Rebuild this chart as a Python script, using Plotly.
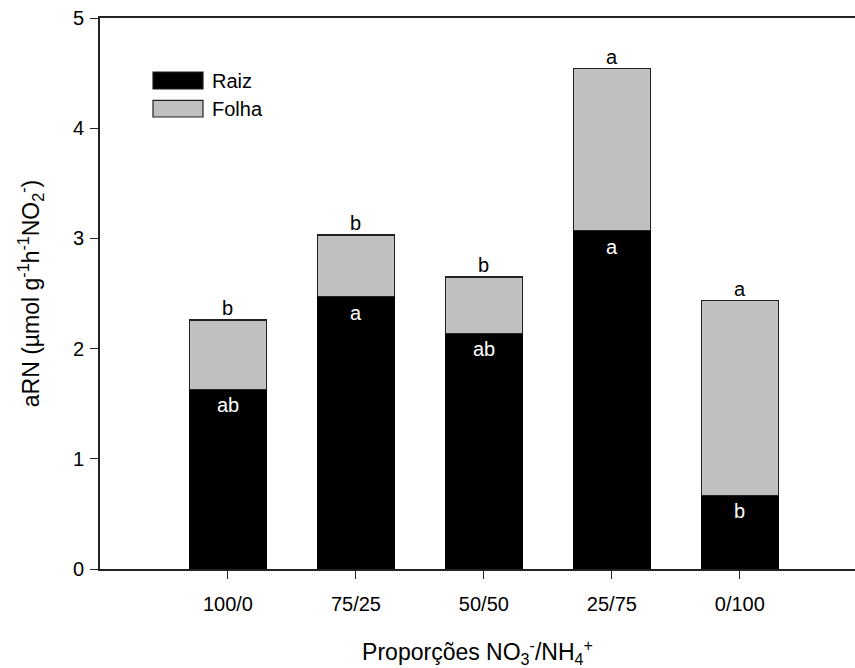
import plotly.graph_objects as go

# Nitrate reductase activity by NO3-/NH4+ proportion
categorias = ["100/0", "75/25", "50/50", "25/75", "0/100"]
raiz = [1.63, 2.47, 2.14, 3.07, 0.67]
total = [2.26, 3.03, 2.65, 4.54, 2.435]
folha = [t - r for t, r in zip(total, raiz)]
letras_total = ["b", "b", "b", "a", "a"]
letras_raiz = ["ab", "a", "ab", "a", "b"]

FONT = "Liberation Sans"

fig = go.Figure()
fig.add_trace(go.Bar(
    x=categorias, y=raiz, name="Raiz", width=0.6,
    marker=dict(color="#000000", line=dict(color="#000000", width=1)),
))
fig.add_trace(go.Bar(
    x=categorias, y=folha, name="Folha", width=0.6,
    marker=dict(color="#c0c0c0", line=dict(color="#222222", width=1.2)),
))

# significance letters
for c, t, r, lt, lr in zip(categorias, total, raiz, letras_total, letras_raiz):
    fig.add_annotation(x=c, y=t, text=lt, showarrow=False, yanchor="bottom",
                       yshift=-1, font=dict(family=FONT, size=20, color="#000"))
    fig.add_annotation(x=c, y=r, text=lr, showarrow=False, yanchor="top",
                       yshift=-3, font=dict(family=FONT, size=20, color="#fff"))

# legend drawn as swatches + labels
legend_items = [("Raiz", "#000000", 72.3, 89.3), ("Folha", "#c0c0c0", 100.7, 117.3)]
for name, color, y0, y1 in legend_items:
    fig.add_shape(type="rect", xref="paper", yref="paper",
                  x0=(153 - 100) / 755, x1=(203 - 100) / 755,
                  y0=(569.3 - y1) / 551, y1=(569.3 - y0) / 551,
                  fillcolor=color, line=dict(color="#222", width=1.2))
    fig.add_annotation(xref="paper", yref="paper", x=(210 - 100) / 755,
                       y=(569.3 - (y0 + y1) / 2) / 551, text=name,
                       showarrow=False, xanchor="left", yanchor="middle",
                       font=dict(family=FONT, size=20, color="#000"))

fig.update_layout(
    width=855, height=668,
    margin=dict(l=100, r=0, t=18, b=99),
    barmode="stack", showlegend=False,
    plot_bgcolor="white", paper_bgcolor="white",
    font=dict(family=FONT, size=20, color="#000"),
    xaxis=dict(
        range=[-1, 4.9], showline=True, linecolor="#222", linewidth=1.6,
        mirror=True, ticks="outside", ticklen=8, tickwidth=1.2, tickcolor="#222",
        showgrid=False, zeroline=False, ticklabelstandoff=8,
        tickfont=dict(family=FONT, size=20),
        title=dict(text="Proporções NO<sub>3</sub><sup>-</sup>/NH<sub>4</sub><sup>+</sup>",
                   font=dict(family=FONT, size=23), standoff=32),
    ),
    yaxis=dict(
        range=[0, 5], dtick=1, showline=True, linecolor="#222", linewidth=1.6,
        ticks="outside", ticklen=8, tickwidth=1.2, tickcolor="#222",
        showgrid=False, zeroline=False, ticklabelstandoff=2,
        tickfont=dict(family=FONT, size=20),
        title=dict(text="aRN (µmol g<sup>-1</sup>h<sup>-1</sup>NO<sub>2</sub><sup>-</sup>)",
                   font=dict(family=FONT, size=23), standoff=27),
    ),
)

fig.write_html("out.html")
